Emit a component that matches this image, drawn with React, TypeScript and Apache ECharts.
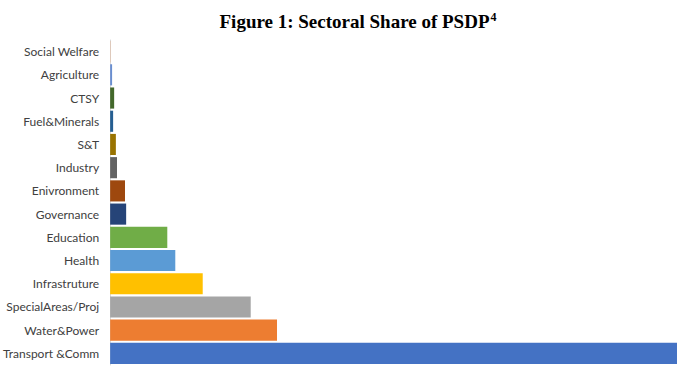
import React, { useEffect, useRef } from "react";
import * as echarts from "echarts";

const categories = [
  "Transport &Comm",
  "Water&Power",
  "SpecialAreas/Proj",
  "Infrastruture",
  "Health",
  "Education",
  "Governance",
  "Enivronment",
  "Industry",
  "S&T",
  "Fuel&Minerals",
  "CTSY",
  "Agriculture",
  "Social Welfare",
];
const shares = [49.6, 14.6, 12.3, 8.1, 5.7, 5.0, 1.4, 1.3, 0.6, 0.5, 0.26, 0.35, 0.17, 0.02];
const barColors = [
  "#4472C4",
  "#ED7D31",
  "#A5A5A5",
  "#FFC000",
  "#5B9BD5",
  "#70AD47",
  "#264478",
  "#9E480E",
  "#636363",
  "#997300",
  "#255E91",
  "#43682B",
  "#698ED0",
  "#F1975A",
];

export default function App() {
  const ref = useRef<HTMLDivElement>(null);
  useEffect(() => {
    document.body.style.margin = "0";
    const chart = echarts.init(ref.current!, null, { renderer: "svg" });
    chart.setOption({
      animation: false,
      backgroundColor: "#ffffff",
      title: {
        text: "Figure 1: Sectoral Share of PSDP{sup|4}",
        left: 353,
        textAlign: "center",
        top: 6,
        textStyle: {
          fontFamily: "Liberation Serif",
          fontSize: 19,
          fontWeight: "bold",
          color: "#000",
          rich: {
            sup: {
              fontFamily: "Liberation Serif",
              fontSize: 12,
              fontWeight: "bold",
              verticalAlign: "top",
              padding: [0, 0, 9, 1],
              color: "#000",
            },
          },
        },
      },
      grid: { left: 107, right: 19, top: 40, bottom: 11, containLabel: false },
      xAxis: {
        type: "value",
        min: 0,
        max: shares[0],
        show: false,
      },
      yAxis: {
        type: "category",
        data: categories,
        axisLine: { show: true, lineStyle: { color: "#D9D9D9", width: 1 } },
        axisTick: { show: false },
        axisLabel: {
          fontFamily: "Lato",
          fontSize: 12,
          color: "#404040",
          margin: 11,
        },
      },
      series: [
        {
          type: "bar",
          data: shares.map((v, i) => ({ value: v, itemStyle: { color: barColors[i] } })),
          barCategoryGap: "9%",
        },
      ],
    });
    return () => chart.dispose();
  }, []);
  return <div ref={ref} style={{ width: 696, height: 376 }} />;
}
